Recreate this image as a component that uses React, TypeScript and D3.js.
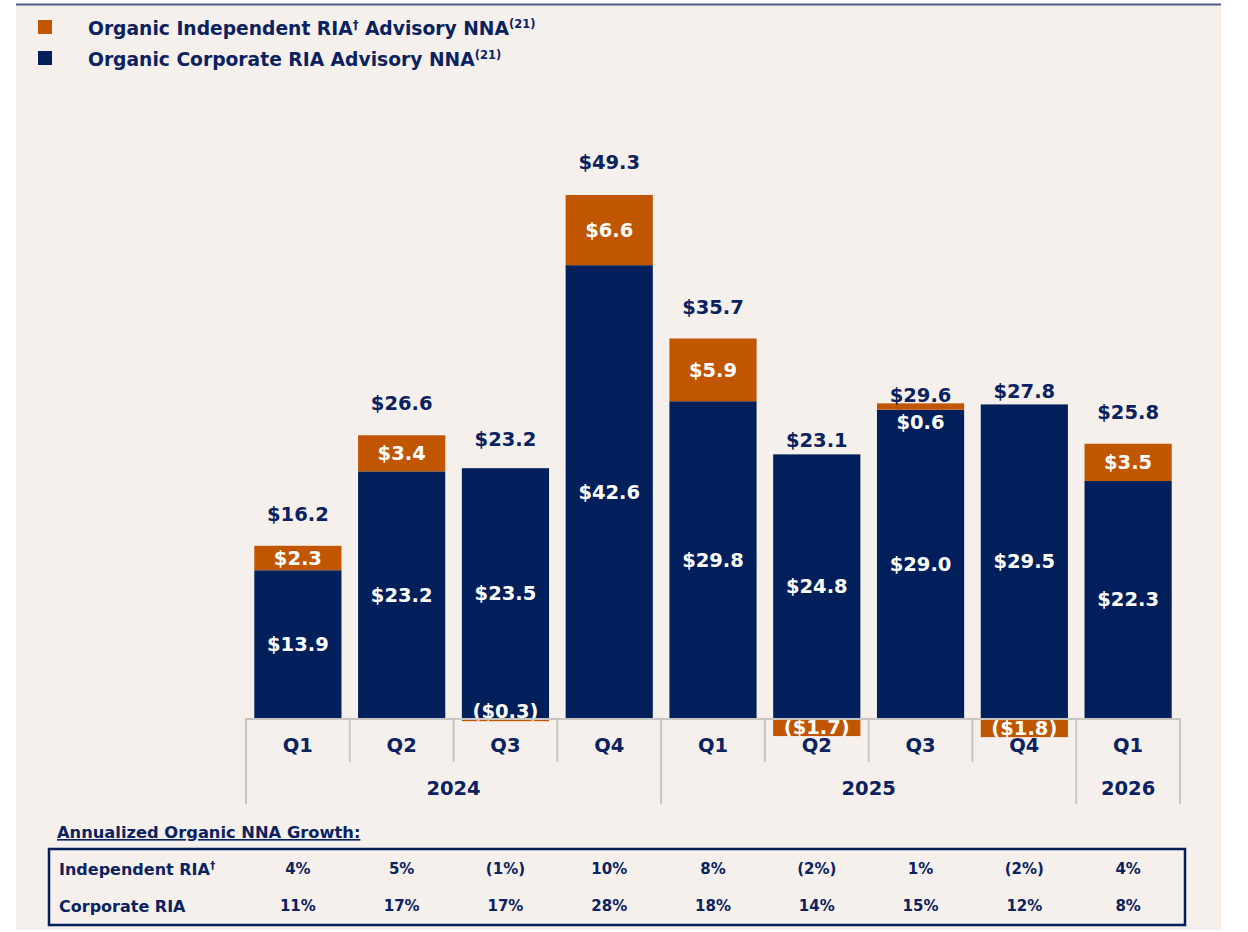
import React from "react";
import * as d3 from "d3";

const quarters = ["Q1", "Q2", "Q3", "Q4", "Q1", "Q2", "Q3", "Q4", "Q1"];
const years = ["2024", "2025", "2026"];
const yearSpans = [4, 4, 1];
const corporate = [13.9, 23.2, 23.5, 42.6, 29.8, 24.8, 29.0, 29.5, 22.3];
const independent = [2.3, 3.4, -0.3, 6.6, 5.9, -1.7, 0.6, -1.8, 3.5];
const totals = [16.2, 26.6, 23.2, 49.3, 35.7, 23.1, 29.6, 27.8, 25.8];
const indGrowth = ["4%", "5%", "(1%)", "10%", "8%", "(2%)", "1%", "(2%)", "4%"];
const corpGrowth = ["11%", "17%", "17%", "28%", "18%", "14%", "15%", "12%", "8%"];

const W = 1248, H = 932;
const NAVY = "#001f5b";
const ORANGE = "#c05600";
const TXT = "#0b2260";
const BG = "#f5f0ec";
const GRID = "#c9c6c2";
const F = "'DejaVu Sans', Verdana, sans-serif";

const fmt = (v: number) => (v < 0 ? `($${Math.abs(v).toFixed(1)})` : `$${v.toFixed(1)}`);

export default function App() {
  const x = d3.scaleBand<number>().domain(d3.range(quarters.length)).range([246, 1180]).paddingInner(0.16).paddingOuter(0.08);
  const step = x.step();
  const x0 = 246;
  const y = d3.scaleLinear().domain([0, 50]).range([718, 718 - 50 * 10.63]);
  const base = y(0);
  const qLineBottom = 762;
  const yLineBottom = 804;
  const lift = (i: number) => (i === 6 ? 8 : 32);

  const yearBounds: number[] = [];
  let acc = 0;
  yearSpans.forEach((s) => { yearBounds.push(acc); acc += s; });
  yearBounds.push(acc);

  const colCenter = (i: number) => (x(i) as number) + x.bandwidth() / 2;
  const LBL = 19.5;

  return (
    <svg width={W} height={H} style={{ display: "block", position: "absolute", left: 0, top: 0 }}>
      <rect x={0} y={0} width={W} height={H} fill="#fff" />
      <rect x={16} y={4} width={1205} height={926} fill={BG} />
      <line x1={16} x2={1221} y1={4.5} y2={4.5} stroke="#4d5d8a" strokeWidth={2} />

      {/* legend */}
      <rect x={38} y={20} width={14} height={14} fill={ORANGE} />
      <text x={88} y={35} fontFamily={F} fontWeight={700} fontSize={18.7} fill={TXT}>
        Organic Independent RIA<tspan fontSize={11.5} dy={-6}>†</tspan>
        <tspan dy={6}> Advisory NNA</tspan>
        <tspan fontSize={11.5} dy={-7}>(21)</tspan>
      </text>
      <rect x={38} y={51} width={14} height={14} fill={NAVY} />
      <text x={88} y={66} fontFamily={F} fontWeight={700} fontSize={18.7} fill={TXT}>
        Organic Corporate RIA Advisory NNA
        <tspan fontSize={11.5} dy={-7}>(21)</tspan>
      </text>

      {/* bars */}
      {quarters.map((_, i) => {
        const bx = x(i) as number;
        const bw = x.bandwidth();
        const c = corporate[i];
        const ind = independent[i];
        const cy0 = y(c);
        let iy0: number, iy1: number;
        if (ind >= 0) { iy0 = y(c + ind); iy1 = y(c); } else { iy0 = base; iy1 = y(ind); }
        const cx = bx + bw / 2;
        const segH = iy1 - iy0;
        let indLabelY: number;
        if (segH >= 14) indLabelY = (iy0 + iy1) / 2;
        else if (ind >= 0) indLabelY = iy1 + 12;
        else indLabelY = base - 7;
        const stackTop = ind >= 0 ? y(c + ind) : cy0;
        const totalY = Math.min(y(totals[i]), stackTop + 32) - lift(i);
        return (
          <g key={i}>
            <rect x={bx} y={cy0} width={bw} height={base - cy0} fill={NAVY} />
            <rect x={bx} y={iy0} width={bw} height={iy1 - iy0} fill={ORANGE} />
            <text x={cx} y={(cy0 + base) / 2} dy="0.36em" textAnchor="middle" fontFamily={F} fontWeight={700} fontSize={LBL} fill="#fff">{fmt(c)}</text>
            <text x={cx} y={indLabelY} dy="0.36em" textAnchor="middle" fontFamily={F} fontWeight={700} fontSize={LBL} fill="#fff">{fmt(ind)}</text>
            <text x={cx} y={totalY} dy="0.36em" textAnchor="middle" fontFamily={F} fontWeight={700} fontSize={LBL} fill={TXT}>{fmt(totals[i])}</text>
          </g>
        );
      })}

      {/* axis */}
      <line x1={x0} x2={1180} y1={base + 1} y2={base + 1} stroke={GRID} strokeWidth={2} />
      {d3.range(quarters.length + 1).map((k) => {
        const isYear = yearBounds.includes(k);
        const lx = x0 + k * step;
        return <line key={k} x1={lx} x2={lx} y1={base} y2={isYear ? yLineBottom : qLineBottom} stroke={GRID} strokeWidth={2} />;
      })}
      {quarters.map((q, i) => (
        <text key={i} x={colCenter(i)} y={745} dy="0.36em" textAnchor="middle" fontFamily={F} fontWeight={700} fontSize={LBL} fill={TXT}>{q}</text>
      ))}
      {years.map((yr, j) => (
        <text key={yr} x={x0 + ((yearBounds[j] + yearBounds[j + 1]) / 2) * step} y={788} dy="0.36em" textAnchor="middle" fontFamily={F} fontWeight={700} fontSize={LBL} fill={TXT}>{yr}</text>
      ))}

      {/* table */}
      <text x={57} y={838} fontFamily={F} fontWeight={700} fontSize={16.3} fill={TXT} textDecoration="underline">Annualized Organic NNA Growth:</text>
      <rect x={49} y={849} width={1136} height={76} fill="none" stroke={NAVY} strokeWidth={2.5} />
      <text x={59} y={869} dy="0.36em" fontFamily={F} fontWeight={700} fontSize={16} fill={TXT}>
        Independent RIA<tspan fontSize={10.5} dy={-6}>†</tspan>
      </text>
      <text x={59} y={906} dy="0.36em" fontFamily={F} fontWeight={700} fontSize={16} fill={TXT}>Corporate RIA</text>
      {indGrowth.map((v, i) => (
        <text key={"a" + i} x={colCenter(i)} y={869} dy="0.36em" textAnchor="middle" fontFamily={F} fontWeight={700} fontSize={15} fill={TXT}>{v}</text>
      ))}
      {corpGrowth.map((v, i) => (
        <text key={"b" + i} x={colCenter(i)} y={906} dy="0.36em" textAnchor="middle" fontFamily={F} fontWeight={700} fontSize={15} fill={TXT}>{v}</text>
      ))}
    </svg>
  );
}
